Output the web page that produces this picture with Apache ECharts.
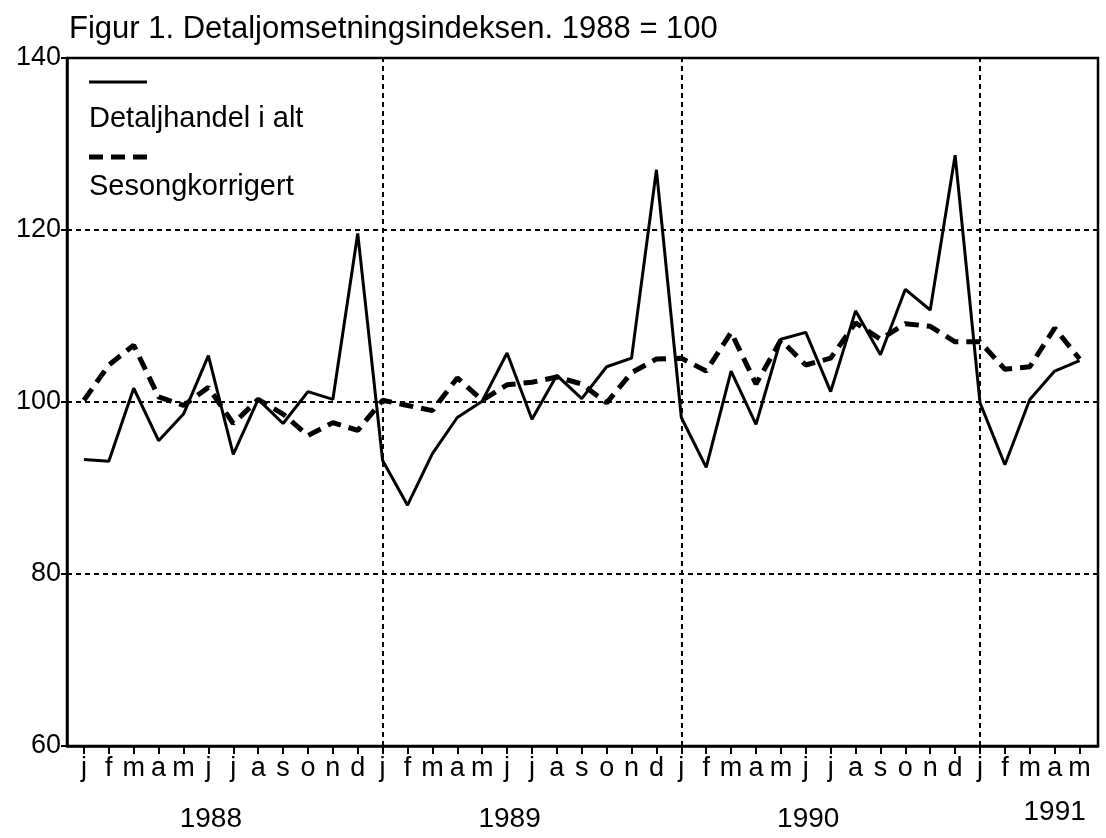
<!DOCTYPE html>
<html>
<head>
<meta charset="utf-8">
<script src="https://cdn.jsdelivr.net/npm/echarts@6/dist/echarts.min.js"></script>
<style>
  html, body { margin: 0; padding: 0; background: #fff; }
  #myChart { width: 1106px; height: 838px; }
</style>
</head>
<body>
<div id="myChart"></div>
<script>
// months j..d for 1988-1990, then j..m for 1991
var monthLabels = ['j','f','m','a','m','j','j','a','s','o','n','d',
                   'j','f','m','a','m','j','j','a','s','o','n','d',
                   'j','f','m','a','m','j','j','a','s','o','n','d',
                   'j','f','m','a','m'];
var yearLabels = ['1988', '1989', '1990', '1991'];
var yearTicks = [5.1, 17.1, 29.1, 39];

// Detaljhandel i alt
var totalData = [93.3, 93.1, 101.6, 95.5, 98.6, 105.4, 93.9, 100.3, 97.5, 101.2, 100.3, 119.6,
                 93.2, 88.0, 94.0, 98.2, 100.1, 105.7, 98.0, 103.1, 100.4, 104.1, 105.1, 127.0,
                 98.2, 92.4, 103.6, 97.4, 107.3, 108.1, 101.2, 110.6, 105.5, 113.1, 110.7, 128.7,
                 99.9, 92.7, 100.3, 103.6, 104.8];
// Sesongkorrigert
var seasonData = [100.2, 104.3, 106.6, 100.6, 99.6, 101.7, 97.5, 100.3, 98.6, 96.1, 97.6, 96.7,
                  100.2, 99.6, 99.0, 102.8, 100.2, 102.0, 102.3, 102.9, 102.1, 99.9, 103.4, 105.0,
                  105.1, 103.6, 108.1, 102.1, 107.2, 104.3, 105.1, 109.2, 107.3, 109.1, 108.8, 107.0,
                  107.0, 103.8, 104.1, 108.6, 105.0];

var FONT = 'Liberation Sans, Arial, sans-serif';
var idx = monthLabels.map(function (m, i) { return i; });
var yearStarts = [];
for (var k = 1; k < yearLabels.length; k++) yearStarts.push({ xAxis: k * 12 });

var myChart = echarts.init(document.getElementById('myChart'));

var option = {
    animation: false,
    backgroundColor: '#fff',
    title: {
        text: 'Figur 1. Detaljomsetningsindeksen. 1988 = 100',
        left: 64,
        top: 9,
        textStyle: { fontFamily: FONT, fontSize: 31, fontWeight: 'normal', color: '#000' }
    },
    grid: {
        left: 67, right: 8, top: 58, bottom: 92,
        show: true, borderColor: '#000', borderWidth: 2.5
    },
    xAxis: [
        {
            type: 'value', min: -0.68, max: 40.74,
            axisLine: { onZero: false, lineStyle: { color: '#000', width: 2.5 } },
            axisTick: { customValues: idx, length: 8, lineStyle: { color: '#000', width: 2 } },
            axisLabel: {
                customValues: idx, margin: 9, fontSize: 27, fontFamily: FONT, color: '#000',
                formatter: function (v) { return monthLabels[Math.round(v)]; }
            },
            splitLine: { show: false }
        },
        {
            type: 'value', min: -0.68, max: 40.74, position: 'bottom',
            axisLine: { show: false },
            axisTick: { show: false },
            axisLabel: {
                customValues: yearTicks, margin: 59, fontSize: 28, fontFamily: FONT, color: '#000',
                formatter: function (v) {
                    var i = yearTicks.indexOf(v);
                    return i === yearLabels.length - 1 ? '{up|' + yearLabels[i] + '}' : yearLabels[i];
                },
                rich: { up: { fontSize: 28, fontFamily: FONT, color: '#000', lineHeight: 14 } }
            },
            splitLine: { show: false }
        }
    ],
    yAxis: {
        type: 'value', min: 60, max: 140, interval: 20,
        axisLine: { show: true, onZero: false, lineStyle: { color: '#000', width: 2.5 } },
        axisTick: { show: true, length: 6, lineStyle: { color: '#000', width: 2 } },
        axisLabel: { margin: 6, fontSize: 27, fontFamily: FONT, color: '#000' },
        splitLine: { lineStyle: { color: '#000', width: 2, type: [5, 4] } }
    },
    graphic: [
        { type: 'line', shape: { x1: 89, y1: 82, x2: 147, y2: 82 }, style: { stroke: '#000', lineWidth: 3 } },
        { type: 'text', left: 89, top: 104, style: { text: 'Detaljhandel i alt', fontSize: 29, fontFamily: FONT, fill: '#000' } },
        { type: 'line', shape: { x1: 89, y1: 157, x2: 147, y2: 157 }, style: { stroke: '#000', lineWidth: 5, lineDash: [14, 8] } },
        { type: 'text', left: 89, top: 172, style: { text: 'Sesongkorrigert', fontSize: 29, fontFamily: FONT, fill: '#000' } }
    ],
    series: [
        {
            name: 'Detaljhandel i alt',
            type: 'line',
            data: totalData.map(function (v, i) { return [i, v]; }),
            symbol: 'none',
            z: 4,
            lineStyle: { color: '#000', width: 3 },
            markLine: {
                silent: true, symbol: 'none', label: { show: false },
                lineStyle: { color: '#000', width: 2, type: [5, 4] },
                data: yearStarts
            }
        },
        {
            name: 'Sesongkorrigert',
            type: 'line',
            data: seasonData.map(function (v, i) { return [i, v]; }),
            symbol: 'none',
            z: 3,
            lineStyle: { color: '#000', width: 5, type: [14, 8] }
        }
    ]
};

myChart.setOption(option);
</script>
</body>
</html>
